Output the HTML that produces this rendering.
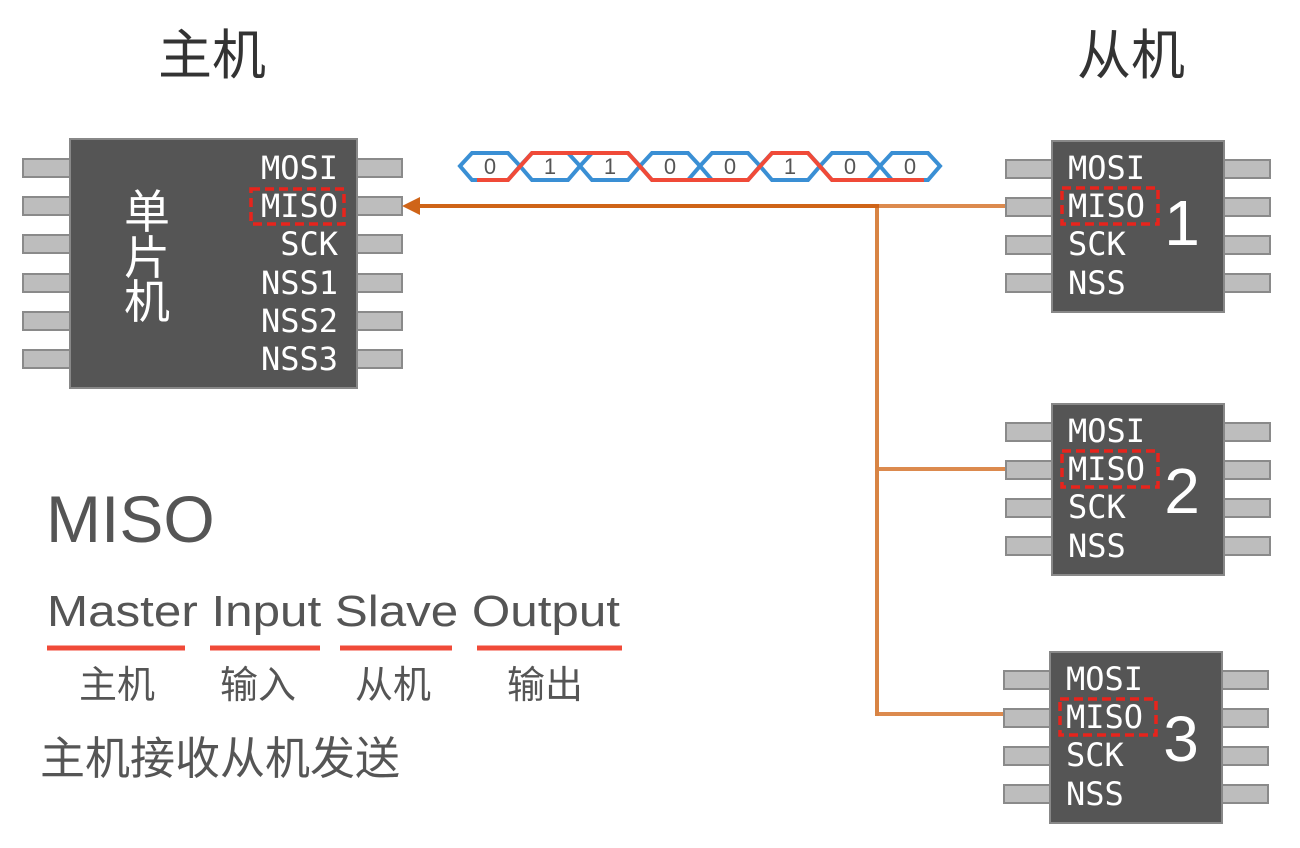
<!DOCTYPE html>
<html><head><meta charset="utf-8"><style>
html,body{margin:0;padding:0;background:#fff;}
svg{display:block;}
.m{font-family:"DejaVu Sans Mono","Liberation Mono",monospace;fill:#fff;font-size:32px;}
.s{font-family:"Liberation Sans","Noto Sans CJK SC",sans-serif;}
</style></head><body>
<svg width="1300" height="848" viewBox="0 0 1300 848" xmlns="http://www.w3.org/2000/svg">
<g class="s" fill="#333" font-size="54">
<text x="158" y="74">主机</text>
<text x="1077" y="74">从机</text>
</g>
<!-- master chip -->
<g fill="#bdbdbd" stroke="#8a8a8a" stroke-width="2">
<rect x="23" y="159" width="47" height="18"/><rect x="23" y="197" width="47" height="18"/><rect x="23" y="235" width="47" height="18"/><rect x="23" y="274" width="47" height="18"/><rect x="23" y="312" width="47" height="18"/><rect x="23" y="350" width="47" height="18"/>
<rect x="357" y="159" width="45" height="18"/><rect x="357" y="197" width="45" height="18"/><rect x="357" y="235" width="45" height="18"/><rect x="357" y="274" width="45" height="18"/><rect x="357" y="312" width="45" height="18"/><rect x="357" y="350" width="45" height="18"/>
</g>
<rect x="70" y="139" width="287" height="249" fill="#555" stroke="#888" stroke-width="2"/>
<g class="s" fill="#fff" font-size="46" text-anchor="middle">
<text x="147" y="228">单</text><text x="147" y="274">片</text><text x="147" y="318">机</text>
</g>
<g class="m" text-anchor="end">
<text x="338" y="179">MOSI</text><text x="338" y="217">MISO</text><text x="338" y="255">SCK</text><text x="338" y="294">NSS1</text><text x="338" y="332">NSS2</text><text x="338" y="370">NSS3</text>
</g>
<rect x="251" y="189" width="93" height="35" fill="none" stroke="#e8241c" stroke-width="3.5" stroke-dasharray="9,5"/>
<!-- lines -->
<g fill="none" stroke-width="4">
<line x1="876" y1="206" x2="1005" y2="206" stroke="#dc8a4e"/>
<line x1="876" y1="469" x2="1005" y2="469" stroke="#dc8a4e"/>
<line x1="876" y1="714" x2="1005" y2="714" stroke="#dc8a4e"/>
<line x1="877" y1="206" x2="877" y2="716" stroke="#d88444"/>
<line x1="418" y1="206" x2="879" y2="206" stroke="#cf6418"/>
</g>
<polygon points="402,206 420,197 420,215" fill="#cf6418"/>
<!-- waveform -->
<g fill="none" stroke="#3a8fd4" stroke-width="4" stroke-linejoin="miter">
<polygon points="460,166 472,153 508,153 520,166 508,180 472,180"/>
<polygon points="520,166 532,153 568,153 580,166 568,180 532,180"/>
<polygon points="580,166 592,153 628,153 640,166 628,180 592,180"/>
<polygon points="640,166 652,153 688,153 700,166 688,180 652,180"/>
<polygon points="700,166 712,153 748,153 760,166 748,180 712,180"/>
<polygon points="760,166 772,153 808,153 820,166 808,180 772,180"/>
<polygon points="820,166 832,153 868,153 880,166 868,180 832,180"/>
<polygon points="880,166 892,153 928,153 940,166 928,180 892,180"/>
</g>
<polyline points="477,180 508,180 532,153 568,153 592,153 628,153 652,180 688,180 712,180 748,180 772,153 808,153 832,180 868,180 892,180 924,180" fill="none" stroke="#f04a38" stroke-width="4"/>
<g class="s" fill="#555" font-size="22" text-anchor="middle">
<text x="490" y="174">0</text><text x="550" y="174">1</text><text x="610" y="174">1</text><text x="670" y="174">0</text><text x="730" y="174">0</text><text x="790" y="174">1</text><text x="850" y="174">0</text><text x="910" y="174">0</text>
</g>
<!-- slaves -->
<g id="sl">
<g fill="#bdbdbd" stroke="#8a8a8a" stroke-width="2">
<rect x="1006" y="160" width="46" height="18"/><rect x="1006" y="198" width="46" height="18"/><rect x="1006" y="236" width="46" height="18"/><rect x="1006" y="274" width="46" height="18"/>
<rect x="1224" y="160" width="46" height="18"/><rect x="1224" y="198" width="46" height="18"/><rect x="1224" y="236" width="46" height="18"/><rect x="1224" y="274" width="46" height="18"/>
</g>
<rect x="1052" y="141" width="172" height="171" fill="#555" stroke="#888" stroke-width="2"/>
<g class="m"><text x="1068" y="179">MOSI</text><text x="1068" y="217">MISO</text><text x="1068" y="255">SCK</text><text x="1068" y="294">NSS</text></g>
<rect x="1062" y="188" width="96" height="36" fill="none" stroke="#e8241c" stroke-width="3.5" stroke-dasharray="9,5"/>
</g>
<use href="#sl" transform="translate(0,263)"/>
<use href="#sl" transform="translate(-2,511)"/>
<g class="s" fill="#fff" font-size="64" text-anchor="middle">
<text x="1182" y="245">1</text><text x="1182" y="513">2</text><text x="1181" y="761">3</text>
</g>
<!-- bottom text -->
<g class="s" fill="#555">
<text x="46" y="542" font-size="66">MISO</text>
<text x="47" y="626" font-size="44" textLength="573" lengthAdjust="spacingAndGlyphs">Master Input Slave Output</text>
<g font-size="38"><text x="79" y="698">主机</text><text x="220" y="698">输入</text><text x="355" y="698">从机</text><text x="507" y="698">输出</text></g>
<text x="40" y="774" font-size="45">主机接收从机发送</text>
</g>
<g stroke="#f04a38" stroke-width="5">
<line x1="47" y1="648" x2="185" y2="648"/><line x1="210" y1="648" x2="320" y2="648"/><line x1="340" y1="648" x2="452" y2="648"/><line x1="477" y1="648" x2="622" y2="648"/>
</g>
</svg>
</body></html>
